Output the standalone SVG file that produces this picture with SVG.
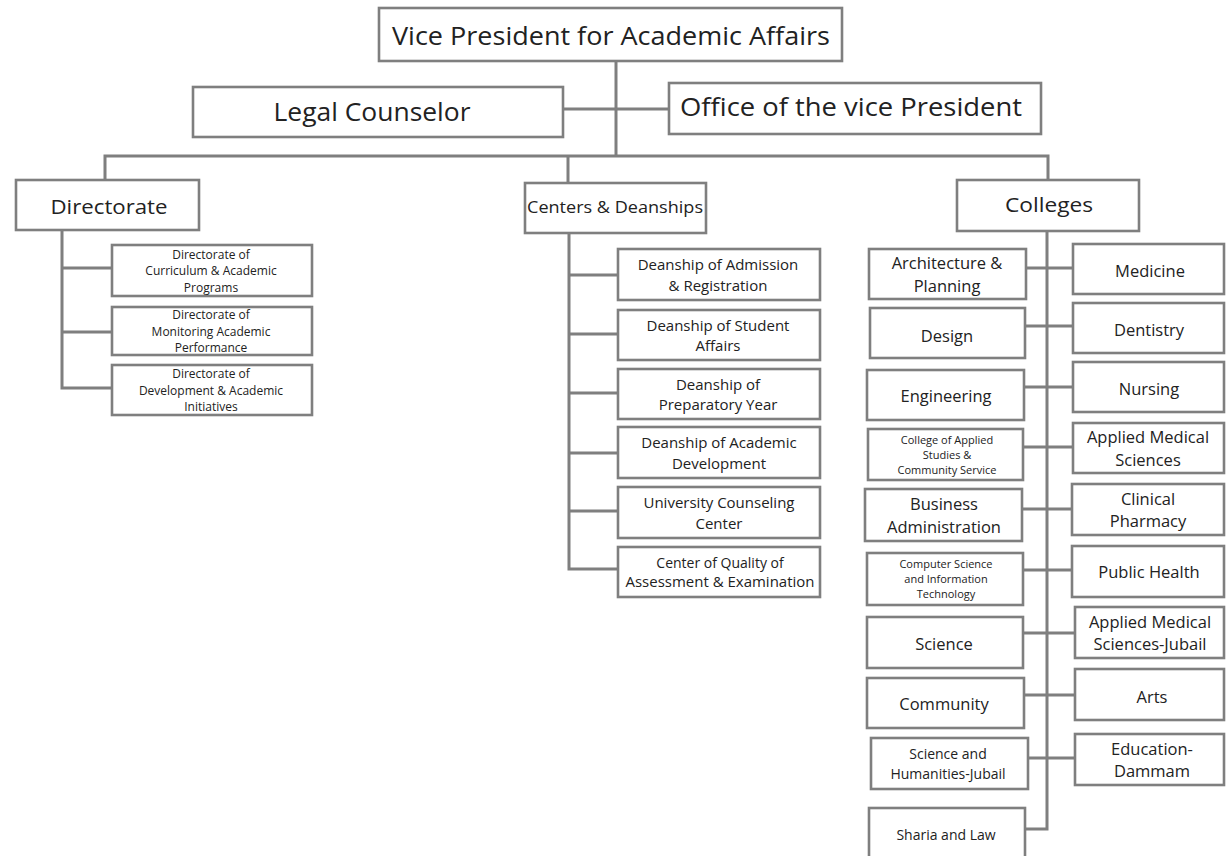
<svg xmlns="http://www.w3.org/2000/svg" width="1226" height="856" viewBox="0 0 1226 856">
<style>
.bg{fill:#ffffff}
.box{fill:#ffffff;stroke:#7f7f7f;stroke-width:2.6}
.ln{fill:none;stroke:#7f7f7f;stroke-width:3}
text{font-family:"Open Sans","Liberation Sans",sans-serif;fill:#222222;text-anchor:middle}
.t1{font-size:25px}
.t2{font-size:20px}
.t3{font-size:16.5px}
.t4{font-size:15px}
.t4s{font-size:14px}
.t5{font-size:14px}
.t5s{font-size:12px}
.t6{font-size:11px}
</style>
<rect class="bg" x="0" y="0" width="1226" height="856"/>
<g id="connectors">
<path class="ln" d="M616,61 V156"/>
<path class="ln" d="M563,109 H669"/>
<path class="ln" d="M105,180 V156 H1048 V180"/>
<path class="ln" d="M568,156 V183"/>
<path class="ln" d="M62,230 V388 H112 M62,268 H112 M62,332 H112"/>
<path class="ln" d="M569,233 V569 H618 M569,275 H618 M569,334 H618 M569,393 H618 M569,453 H618 M569,511 H618"/>
<path class="ln" d="M1047,231 V829 H1025 M1026,268 H1073 M1025,326 H1073 M1024,387 H1073 M1023,447 H1073 M1022,509 H1072 M1023,570 H1072 M1023,633 H1075 M1024,695 H1075 M1028,758 H1075"/>
</g>
<g id="vp"><rect class="box" x="379" y="8" width="463" height="53"/><text class="t1" x="611" y="45" textLength="438" lengthAdjust="spacingAndGlyphs">Vice President for Academic Affairs</text></g>
<g id="legal"><rect class="box" x="193" y="87" width="370" height="50"/><text class="t1" x="372" y="121" textLength="197" lengthAdjust="spacingAndGlyphs">Legal Counselor</text></g>
<g id="office"><rect class="box" x="669" y="83" width="372" height="51"/><text class="t1" x="851" y="116" textLength="342" lengthAdjust="spacingAndGlyphs">Office of the vice President</text></g>
<g id="directorate"><rect class="box" x="16" y="180" width="183" height="50"/><text class="t2" x="109" y="214" textLength="117" lengthAdjust="spacingAndGlyphs">Directorate</text></g>
<g id="centers"><rect class="box" x="525" y="183" width="181" height="50"/><text class="t3" x="615" y="213" textLength="176" lengthAdjust="spacingAndGlyphs">Centers &amp; Deanships</text></g>
<g id="colleges"><rect class="box" x="957" y="180" width="182" height="51"/><text class="t2" x="1049" y="212" textLength="88" lengthAdjust="spacingAndGlyphs">Colleges</text></g>

<g id="dir-curriculum"><rect class="box" x="112" y="245" width="200" height="51"/><text class="t5s" x="211" y="258.7">Directorate of</text><text class="t5s" x="211" y="275.1">Curriculum &amp; Academic</text><text class="t5s" x="211" y="291.5">Programs</text></g>
<g id="dir-monitoring"><rect class="box" x="112" y="307" width="200" height="48"/><text class="t5s" x="211" y="319.2">Directorate of</text><text class="t5s" x="211" y="335.6">Monitoring Academic</text><text class="t5s" x="211" y="352">Performance</text></g>
<g id="dir-development"><rect class="box" x="112" y="365" width="200" height="50"/><text class="t5s" x="211" y="378.2">Directorate of</text><text class="t5s" x="211" y="394.6">Development &amp; Academic</text><text class="t5s" x="211" y="411">Initiatives</text></g>

<g id="c-admission"><rect class="box" x="618" y="249" width="202" height="51"/><text class="t4" x="718" y="270.1">Deanship of Admission</text><text class="t4" x="718" y="290.5">&amp; Registration</text></g>
<g id="c-student"><rect class="box" x="618" y="310" width="202" height="50"/><text class="t4" x="718" y="330.6">Deanship of Student</text><text class="t4" x="718" y="351">Affairs</text></g>
<g id="c-prep"><rect class="box" x="618" y="369" width="202" height="50"/><text class="t4" x="718" y="389.6">Deanship of</text><text class="t4" x="718" y="410">Preparatory Year</text></g>
<g id="c-acad"><rect class="box" x="618" y="427" width="202" height="51"/><text class="t4" x="719" y="448.1">Deanship of Academic</text><text class="t4" x="719" y="468.5">Development</text></g>
<g id="c-counsel"><rect class="box" x="618" y="487" width="202" height="51"/><text class="t4" x="719" y="508.1">University Counseling</text><text class="t4" x="719" y="528.5">Center</text></g>
<g id="c-quality"><rect class="box" x="618" y="547" width="202" height="50"/><text class="t4s" x="720" y="567.9">Center of Quality of</text><text class="t4s" x="720" y="587" textLength="189" lengthAdjust="spacingAndGlyphs">Assessment &amp; Examination</text></g>

<g id="col-arch"><rect class="box" x="869" y="249" width="157" height="50"/><text class="t3" x="947" y="269.1">Architecture &amp;</text><text class="t3" x="947" y="291.6">Planning</text></g>
<g id="col-design"><rect class="box" x="870" y="308" width="155" height="50"/><text class="t3" x="947" y="342">Design</text></g>
<g id="col-eng"><rect class="box" x="867" y="370" width="157" height="50"/><text class="t3" x="946" y="402">Engineering</text></g>
<g id="col-applied"><rect class="box" x="868" y="429" width="155" height="51"/><text class="t6" x="947" y="443.8">College of Applied</text><text class="t6" x="947" y="458.8">Studies &amp;</text><text class="t6" x="947" y="473.8">Community Service</text></g>
<g id="col-business"><rect class="box" x="865" y="489" width="157" height="52"/><text class="t3" x="944" y="510.1">Business</text><text class="t3" x="944" y="532.6">Administration</text></g>
<g id="col-cs"><rect class="box" x="867" y="553" width="156" height="52"/><text class="t6" x="946" y="568.3">Computer Science</text><text class="t6" x="946" y="583.3">and Information</text><text class="t6" x="946" y="598.3">Technology</text></g>
<g id="col-science"><rect class="box" x="867" y="617" width="156" height="51"/><text class="t3" x="944" y="650">Science</text></g>
<g id="col-community"><rect class="box" x="867" y="678" width="157" height="50"/><text class="t3" x="944" y="710">Community</text></g>
<g id="col-scihum"><rect class="box" x="871" y="738" width="157" height="51"/><text class="t5" x="948" y="759.4">Science and</text><text class="t5" x="948" y="778.6">Humanities-Jubail</text></g>
<g id="col-sharia"><rect class="box" x="869" y="808" width="156" height="52"/><text class="t5" x="946" y="840">Sharia and Law</text></g>

<g id="col-medicine"><rect class="box" x="1073" y="244" width="151" height="50"/><text class="t3" x="1150" y="277">Medicine</text></g>
<g id="col-dentistry"><rect class="box" x="1073" y="303" width="151" height="50"/><text class="t3" x="1149" y="336">Dentistry</text></g>
<g id="col-nursing"><rect class="box" x="1073" y="362" width="151" height="50"/><text class="t3" x="1149" y="395">Nursing</text></g>
<g id="col-ams"><rect class="box" x="1073" y="423" width="151" height="50"/><text class="t3" x="1148" y="443.1">Applied Medical</text><text class="t3" x="1148" y="465.6">Sciences</text></g>
<g id="col-clinical"><rect class="box" x="1072" y="484" width="152" height="51"/><text class="t3" x="1148" y="504.6">Clinical</text><text class="t3" x="1148" y="527.1">Pharmacy</text></g>
<g id="col-public"><rect class="box" x="1072" y="546" width="152" height="51"/><text class="t3" x="1149" y="578">Public Health</text></g>
<g id="col-amsj"><rect class="box" x="1075" y="607" width="149" height="51"/><text class="t3" x="1150" y="627.6">Applied Medical</text><text class="t3" x="1150" y="650.1">Sciences-Jubail</text></g>
<g id="col-arts"><rect class="box" x="1075" y="669" width="149" height="51"/><text class="t3" x="1152" y="703">Arts</text></g>
<g id="col-education"><rect class="box" x="1075" y="734" width="149" height="51"/><text class="t3" x="1152" y="754.6">Education-</text><text class="t3" x="1152" y="777.1">Dammam</text></g>
</svg>
